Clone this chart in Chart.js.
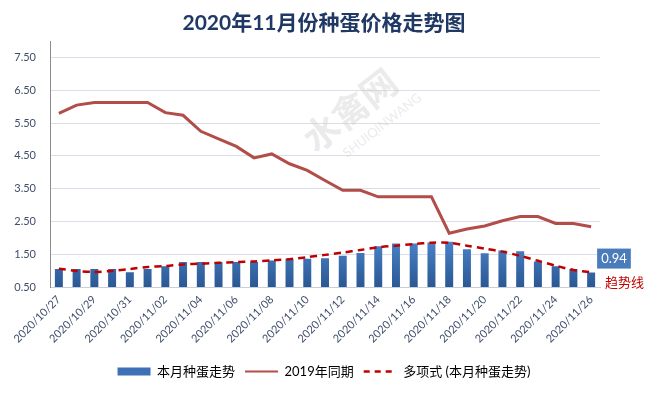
<!DOCTYPE html>
<html>
<head>
<meta charset="utf-8">
<script src="https://cdn.jsdelivr.net/npm/chart.js@4.4.0/dist/chart.umd.min.js"></script>
<style>
html, body { margin: 0; padding: 0; background: #fff; }
#wrap { width: 648px; height: 395px; }
</style>
</head>
<body>
<div id="wrap"><canvas id="eggChart"></canvas></div>
<script>
// dates (every day, only every other one gets a label)
const dates = [
    '2020/10/27', '2020/10/28', '2020/10/29', '2020/10/30', '2020/10/31',
    '2020/11/01', '2020/11/02', '2020/11/03', '2020/11/04', '2020/11/05',
    '2020/11/06', '2020/11/07', '2020/11/08', '2020/11/09', '2020/11/10',
    '2020/11/11', '2020/11/12', '2020/11/13', '2020/11/14', '2020/11/15',
    '2020/11/16', '2020/11/17', '2020/11/18', '2020/11/19', '2020/11/20',
    '2020/11/21', '2020/11/22', '2020/11/23', '2020/11/24', '2020/11/25',
    '2020/11/26'
];
// 本月种蛋走势
const thisMonth = [1.05, 1.05, 1.05, 1.05, 0.95, 1.05, 1.13, 1.26, 1.26, 1.26,
    1.26, 1.26, 1.31, 1.36, 1.36, 1.38, 1.45, 1.54, 1.74, 1.83,
    1.83, 1.86, 1.88, 1.65, 1.53, 1.61, 1.59, 1.28, 1.13, 1.05, 0.94];
// 2019年同期
const lastYear = [5.80, 6.05, 6.13, 6.13, 6.13, 6.13, 5.82, 5.74, 5.25, 5.02,
    4.79, 4.44, 4.56, 4.26, 4.06, 3.75, 3.45, 3.45, 3.25, 3.25,
    3.25, 3.25, 2.14, 2.27, 2.36, 2.52, 2.65, 2.65, 2.44, 2.44, 2.34];
// 多项式 (本月种蛋走势)
const trend = [1.06, 0.99, 0.96, 0.99, 1.05, 1.11, 1.14, 1.19, 1.21, 1.24,
    1.26, 1.28, 1.31, 1.35, 1.41, 1.48, 1.55, 1.63, 1.71, 1.76,
    1.81, 1.85, 1.85, 1.76, 1.67, 1.58, 1.45, 1.30, 1.15, 1.02, 0.95];
const yTicks = [0.5, 1.5, 2.5, 3.5, 4.5, 5.5, 6.5, 7.5];

const barBlue = '#3D70B4';
const lineRed = '#B24D49';
const trendRed = '#C00000';

Chart.defaults.font.family = "Lato, 'Noto Sans CJK SC', sans-serif";

// faint site watermark behind the data
const watermark = {
    id: 'watermark',
    beforeDatasetsDraw(chart) {
        const ctx = chart.ctx;
        ctx.save();
        ctx.translate(350, 110);
        ctx.rotate(-38 * Math.PI / 180);
        ctx.fillStyle = 'rgba(205,205,205,0.4)';
        ctx.font = "bold 36px 'Noto Sans CJK SC'";
        ctx.textAlign = 'center';
        ctx.textBaseline = 'middle';
        ctx.fillText('水禽网', 0, 0);
        ctx.font = '13px Lato';
        ctx.fillText('SHUIQINWANG', 16, 32);
        ctx.restore();
    }
};

// value tag on the last bar + "趋势线" note
const lastValueTag = {
    id: 'lastValueTag',
    afterDatasetsDraw(chart) {
        const ctx = chart.ctx;
        const barMeta = chart.getDatasetMeta(0);
        const last = barMeta.data.length - 1;
        const bar = barMeta.data[last];
        const txt = thisMonth[last].toFixed(2);
        ctx.save();
        ctx.font = '13px Lato';
        const w = ctx.measureText(txt).width + 8;
        const bx = bar.x + 6, by = bar.y - 24;
        ctx.fillStyle = '#4A7BBA';
        ctx.fillRect(bx, by, w, 20);
        ctx.fillStyle = '#fff';
        ctx.textAlign = 'center';
        ctx.textBaseline = 'middle';
        ctx.fillText(txt, bx + w / 2, by + 10.5);

        const tp = chart.getDatasetMeta(2).data[last];
        ctx.fillStyle = trendRed;
        ctx.font = "13px 'Noto Sans CJK SC'";
        ctx.textAlign = 'left';
        ctx.fillText('趋势线', chart.chartArea.right + 5, tp.y + 10);
        ctx.restore();
    }
};

const config = {
    type: 'bar',
    data: {
        labels: dates,
        datasets: [
            {
                label: '本月种蛋走势',
                data: thisMonth,
                order: 3,
                backgroundColor: (c) => {
                    const chart = c.chart;
                    if (!chart.chartArea) return barBlue;
                    const ys = chart.scales.y;
                    const g = chart.ctx.createLinearGradient(0, ys.getPixelForValue(1.9), 0, ys.getPixelForValue(0.5));
                    g.addColorStop(0, '#4A82C8');
                    g.addColorStop(1, '#2A5893');
                    return g;
                },
                barPercentage: 0.45,
                categoryPercentage: 1.0
            },
            {
                type: 'line',
                label: '2019年同期',
                data: lastYear,
                order: 2,
                borderColor: lineRed,
                borderWidth: 3,
                pointRadius: 0,
                tension: 0
            },
            {
                type: 'line',
                label: '多项式 (本月种蛋走势)',
                data: trend,
                order: 1,
                borderColor: trendRed,
                borderWidth: 2.5,
                borderDash: [7, 5],
                pointRadius: 0,
                tension: 0.3
            }
        ]
    },
    options: {
        responsive: true,
        maintainAspectRatio: false,
        animation: false,
        layout: { padding: { left: 0, right: 0, top: 0, bottom: 7 } },
        plugins: {
            title: {
                display: true,
                text: '2020年11月份种蛋价格走势图',
                color: '#1F3864',
                font: { size: 21, weight: 'bold' },
                padding: { top: 11, bottom: 5 }
            },
            legend: {
                position: 'bottom',
                labels: {
                    usePointStyle: true,
                    pointStyleWidth: 33,
                    boxHeight: 8,
                    padding: 10,
                    color: '#262626',
                    font: { size: 13 },
                    generateLabels: () => [
                        { text: '本月种蛋走势', fillStyle: barBlue, strokeStyle: barBlue, lineWidth: 0, pointStyle: 'rect', datasetIndex: 0 },
                        { text: '2019年同期', fillStyle: 'rgba(0,0,0,0)', strokeStyle: lineRed, lineWidth: 2, pointStyle: 'line', datasetIndex: 1 },
                        { text: '多项式 (本月种蛋走势)', fillStyle: 'rgba(0,0,0,0)', strokeStyle: trendRed, lineWidth: 2.5, lineDash: [6, 5], pointStyle: 'line', datasetIndex: 2 }
                    ]
                }
            },
            tooltip: { enabled: false }
        },
        scales: {
            x: {
                grid: { display: false, drawTicks: false },
                border: { display: true, color: '#C9CFDA' },
                ticks: {
                    autoSkip: false,
                    minRotation: 45,
                    maxRotation: 45,
                    padding: 6,
                    color: '#404E6B',
                    font: { size: 11 },
                    callback: function (val, index) {
                        return index % 2 === 0 ? this.getLabelForValue(val) : '';
                    }
                },
                afterFit: (scale) => { scale.height = 68; }
            },
            y: {
                min: 0.5,
                max: 8,
                grid: { color: '#D9DEE8', drawTicks: false },
                border: { display: true, color: '#8C8C8C' },
                ticks: {
                    padding: 14,
                    color: '#404E6B',
                    font: { size: 11 },
                    callback: (v) => Number(v).toFixed(2)
                },
                afterBuildTicks: (axis) => { axis.ticks = yTicks.map(v => ({ value: v })); },
                afterFit: (scale) => { scale.width = 50; }
            },
            // empty right margin so title and legend stay centred on the page
            yRight: {
                position: 'right',
                min: 0.5,
                max: 8,
                grid: { display: false, drawTicks: false },
                border: { display: false },
                ticks: { display: false },
                afterFit: (scale) => { scale.width = 48; }
            }
        }
    },
    plugins: [watermark, lastValueTag]
};

let eggChart = new Chart(document.getElementById('eggChart'), config);
</script>
</body>
</html>
